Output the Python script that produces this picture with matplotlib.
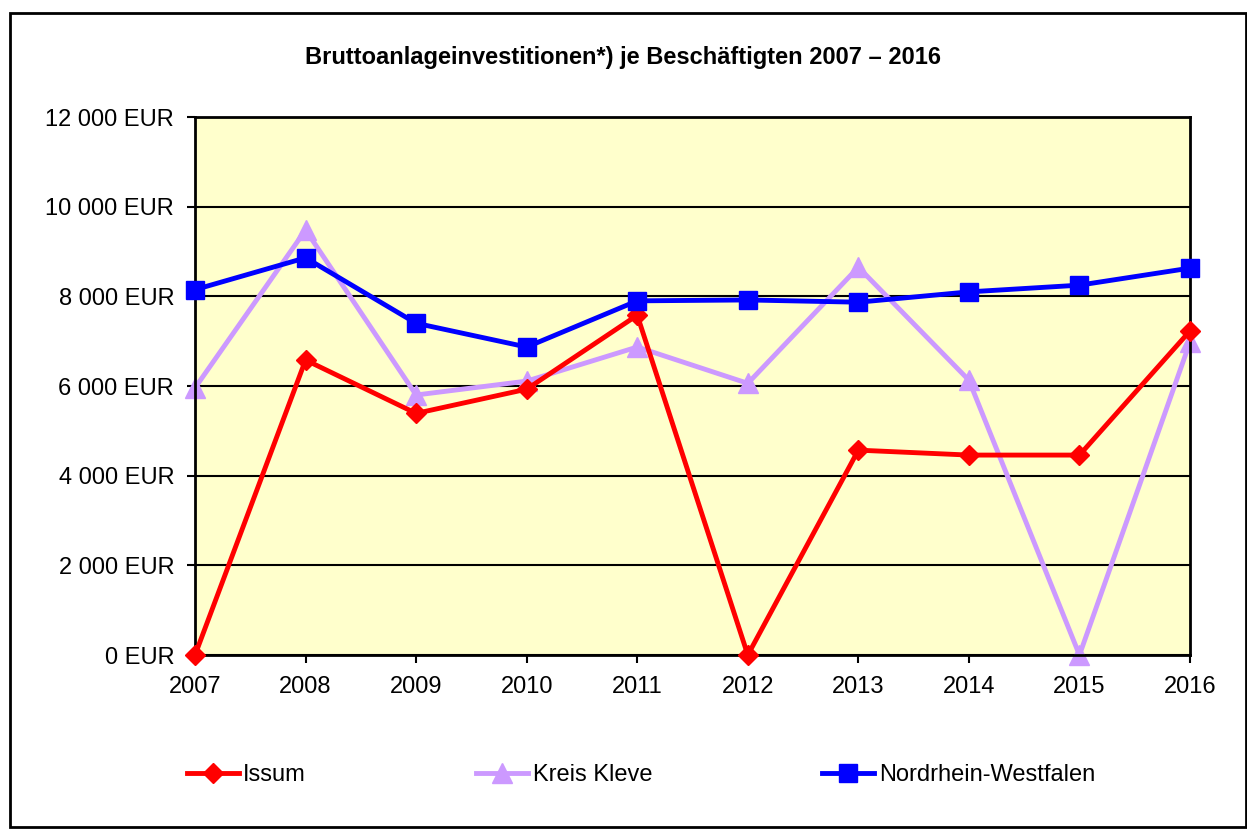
import matplotlib.pyplot as plt
from matplotlib.patches import Rectangle
from matplotlib.ticker import FuncFormatter

plt.rcParams['font.family'] = ['Liberation Sans', 'DejaVu Sans']

years = [2007, 2008, 2009, 2010, 2011, 2012, 2013, 2014, 2015, 2016]
issum = [0, 6580, 5390, 5930, 7580, 0, 4570, 4460, 4460, 7230]
kreis_kleve = [5960, 9480, 5800, 6110, 6870, 6060, 8650, 6130, 0, 6980]
nrw = [8150, 8860, 7400, 6870, 7900, 7920, 7870, 8100, 8250, 8630]

fig = plt.figure(figsize=(12.47, 8.30), dpi=100)
ax = fig.add_axes([0.1564, 0.2108, 0.7979, 0.6482])
ax.set_facecolor('#FFFFCC')

x = list(range(len(years)))
ax.plot(x, issum, color='#FF0000', lw=3.5, marker='D', ms=10.5, label='Issum', zorder=3)
ax.plot(x, kreis_kleve, color='#CC99FF', lw=3.5, marker='^', ms=14, label='Kreis Kleve', zorder=2)
ax.plot(x, nrw, color='#0000FF', lw=3.5, marker='s', ms=13, label='Nordrhein-Westfalen', zorder=4)

ax.set_xlim(0, len(years) - 1)
ax.set_ylim(0, 12000)
ax.set_yticks(range(0, 12001, 2000))
ax.yaxis.set_major_formatter(FuncFormatter(lambda v, p: f'{int(v):,} EUR'.replace(',', ' ')))
ax.set_xticks(x)
ax.set_xticklabels([str(y) for y in years])
ax.tick_params(labelsize=17, length=6, width=1.5, direction='out')
ax.tick_params(axis='x', pad=9)
ax.tick_params(axis='y', pad=9)
ax.grid(axis='y', color='black', lw=1.5)
ax.set_axisbelow(True)
for s in ax.spines.values():
    s.set_linewidth(2)
for line in ax.get_lines():
    line.set_clip_on(False)

fig.text(0.4995, 0.931, 'Bruttoanlageinvestitionen*) je Beschäftigten 2007 \u2013 2016',
         ha='center', va='center', fontsize=17, fontweight='bold')

fig.legend(loc='center', bbox_to_anchor=(0.514, 0.066), ncol=3, frameon=False,
           fontsize=17, handlelength=2.2, handletextpad=0.2, columnspacing=7.2)

fig.add_artist(Rectangle((0.008, 0.004), 0.991, 0.98, transform=fig.transFigure,
                         fill=False, edgecolor='black', lw=2))

fig.savefig('out.png', dpi=100)
